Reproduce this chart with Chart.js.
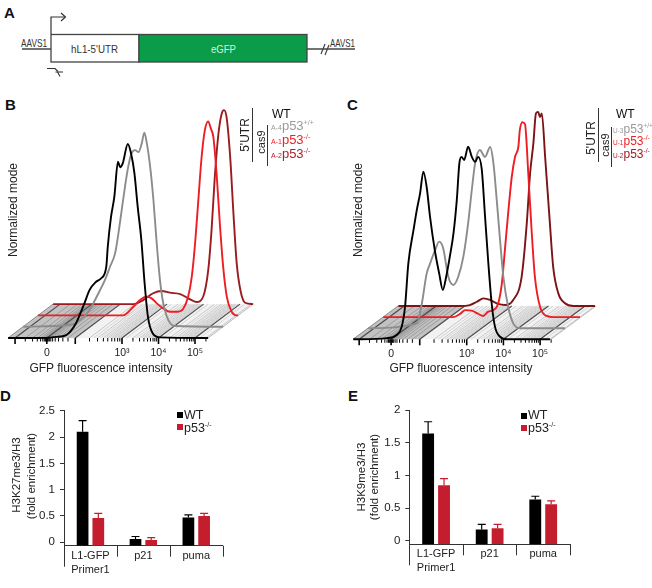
<!DOCTYPE html>
<html><head><meta charset="utf-8">
<script src="https://cdn.jsdelivr.net/npm/chart.js@4.4.1/dist/chart.umd.min.js"></script>
<style>
body{margin:0;background:#fff;}
#page{position:relative;width:652px;height:588px;overflow:hidden;font-family:'Liberation Sans',Arial,sans-serif;color:#222;background:#fff;}
canvas{position:absolute;}
.let{position:absolute;font-weight:bold;font-size:15px;line-height:15px;color:#111;}
.rot{position:absolute;transform:translate(-50%,-50%) rotate(-90deg);white-space:nowrap;line-height:1;}
.txt{position:absolute;white-space:nowrap;line-height:1;}
.vl{position:absolute;width:1px;background:#333;}
.sq{position:absolute;width:6px;height:6px;}
.sb{font-size:7px;}
.sp{font-size:7px;vertical-align:5px;}
.sbc{font-size:6.5px;}
.spc{font-size:6.5px;vertical-align:5px;}
</style></head>
<body><div id="page">

<!-- Panel A schematic -->
<svg style="position:absolute;left:0;top:0" width="370" height="88" font-family="Liberation Sans, Arial, sans-serif">
  <text x="4" y="18" font-size="15" font-weight="bold" fill="#111">A</text>
  <line x1="22" y1="49" x2="51" y2="49" stroke="#444" stroke-width="1.5"/>
  <line x1="307" y1="49" x2="355" y2="49" stroke="#444" stroke-width="1.5"/>
  <rect x="51" y="34.5" width="88" height="27.5" fill="#fff" stroke="#444" stroke-width="1.3"/>
  <rect x="139" y="34.5" width="168" height="27.5" fill="#0a9c48" stroke="#444" stroke-width="1.3"/>
  <text x="21" y="46.5" font-size="11.5" fill="#333" textLength="26" lengthAdjust="spacingAndGlyphs">AAVS1</text>
  <text x="330" y="46.5" font-size="11.5" fill="#333" textLength="25" lengthAdjust="spacingAndGlyphs">AAVS1</text>
  <text x="71" y="52.5" font-size="11.5" fill="#333" textLength="47" lengthAdjust="spacingAndGlyphs">hL1-5'UTR</text>
  <text x="211" y="52.5" font-size="11.5" fill="#d8f2de" textLength="25" lengthAdjust="spacingAndGlyphs">eGFP</text>
  <path d="M51 34 V17 H65" fill="none" stroke="#333" stroke-width="1.2"/>
  <path d="M61 13 L65.5 17 L61 21" fill="none" stroke="#333" stroke-width="1.2"/>
  <path d="M321 54 L325 44 M325 55 L329 45" stroke="#444" stroke-width="1.2"/>
  <path d="M47 68.5 H55 L58 71.5" fill="none" stroke="#333" stroke-width="1.1"/>
  <path d="M55.5 72 H63 M57.5 72 L60 76.5" fill="none" stroke="#333" stroke-width="1.1"/>
</svg>

<div class="let" style="left:5px;top:97px">B</div>
<div class="let" style="left:347px;top:97px">C</div>
<div class="let" style="left:0px;top:388px">D</div>
<div class="let" style="left:348px;top:388px">E</div>

<canvas id="cB" width="330" height="290" style="left:0;top:95px"></canvas>
<canvas id="cC" width="322" height="290" style="left:330px;top:95px"></canvas>
<canvas id="cD" width="330" height="196" style="left:0;top:392px"></canvas>
<canvas id="cE" width="322" height="196" style="left:330px;top:392px"></canvas>

<!-- axis titles B / C -->
<div class="rot" style="left:13px;top:210px;font-size:12px">Normalized mode</div>
<div class="rot" style="left:358px;top:210px;font-size:12px">Normalized mode</div>
<div class="txt" style="left:101px;top:368px;font-size:12px;transform:translate(-50%,-50%)">GFP fluorescence intensity</div>
<div class="txt" style="left:461px;top:368px;font-size:12px;transform:translate(-50%,-50%)">GFP fluorescence intensity</div>

<!-- legend B -->
<div class="rot" style="left:245px;top:135px;font-size:12px">5'UTR</div>
<div class="vl" style="left:252px;top:108px;height:54px"></div>
<div class="rot" style="left:260.5px;top:142px;font-size:11px">cas9</div>
<div class="vl" style="left:267px;top:125px;height:41px"></div>
<div class="txt" style="left:272px;top:108px;font-size:12px;color:#111">WT</div>
<div class="txt" style="left:271px;top:117px;color:#9a9a9a"><span class="sb">A-4</span><span style="font-size:13px">p53</span><span class="sp">+/+</span></div>
<div class="txt" style="left:271px;top:131px;color:#ee2226"><span class="sb">A-1</span><span style="font-size:13px">p53</span><span class="sp">-/-</span></div>
<div class="txt" style="left:271px;top:144.5px;color:#b3202a"><span class="sb">A-2</span><span style="font-size:13px">p53</span><span class="sp">-/-</span></div>

<!-- legend C -->
<div class="rot" style="left:591px;top:138px;font-size:12px">5'UTR</div>
<div class="vl" style="left:598px;top:108px;height:54px"></div>
<div class="rot" style="left:605px;top:145px;font-size:11px">cas9</div>
<div class="vl" style="left:611px;top:127px;height:40px"></div>
<div class="txt" style="left:616px;top:108px;font-size:12px;color:#111">WT</div>
<div class="txt" style="left:613px;top:120px;color:#9a9a9a"><span class="sbc">U-3</span><span style="font-size:12px">p53</span><span class="spc">+/+</span></div>
<div class="txt" style="left:613px;top:132px;color:#ee2226"><span class="sbc">U-1</span><span style="font-size:12px">p53</span><span class="spc">-/-</span></div>
<div class="txt" style="left:613px;top:144.5px;color:#a01c22"><span class="sbc">U-2</span><span style="font-size:12px">p53</span><span class="spc">-/-</span></div>

<!-- D / E titles and legends -->
<div class="rot" style="left:16.5px;top:475px;font-size:11.5px">H3K27me3/H3</div>
<div class="rot" style="left:31.5px;top:476px;font-size:11.5px">(fold enrichment)</div>
<div class="rot" style="left:361.5px;top:477px;font-size:11.5px">H3K9me3/H3</div>
<div class="rot" style="left:375px;top:477px;font-size:11.5px">(fold enrichment)</div>

<div class="sq" style="left:177px;top:412px;background:#000"></div>
<div class="txt" style="left:184px;top:408.5px;font-size:12.5px">WT</div>
<div class="sq" style="left:177px;top:424px;background:#c41e2e"></div>
<div class="txt" style="left:184px;top:420.5px;font-size:12.5px">p53<span class="sp">-/-</span></div>

<div class="sq" style="left:521px;top:412.5px;background:#000"></div>
<div class="txt" style="left:528px;top:409px;font-size:12.5px">WT</div>
<div class="sq" style="left:521px;top:424.5px;background:#c41e2e"></div>
<div class="txt" style="left:528px;top:421px;font-size:12.5px">p53<span class="sp">-/-</span></div>

</div>
<script>
// ---------------- DATA ----------------
// Flow histograms: x in decade units of the biexponential axis (10^3 = 3), y = % of mode
const axisLabelPos = [0.94, 3, 4, 5];
const axisLabels = ['0', '10\u00B3', '10\u2074', '10\u2075'];
const majorTicks = [0.07, 0.94, 1.72, 3, 4, 5];
const minorTicks = [0.35, 0.55, 0.68, 0.77, 0.83, 0.87, 0.9, 0.92, 0.96, 0.98, 1.01, 1.05, 1.1, 1.17, 1.26, 1.38, 1.52,
  2.11, 2.33, 2.49, 2.61, 2.72, 2.8, 2.88, 2.94, 3.3, 3.48, 3.6, 3.7, 3.78, 3.85, 3.9, 3.95,
  4.3, 4.48, 4.6, 4.7, 4.78, 4.85, 4.9, 4.95, 5.3];

// Panel B
const bBlackX = [-0.12, 0.74, 1.2, 1.47, 1.74, 1.97, 2.11, 2.29, 2.43, 2.57, 2.61, 2.70, 2.79, 2.89, 2.95, 3.02, 3.16, 3.25, 3.34, 3.43, 3.53, 3.62, 3.71, 3.84, 4.03, 5.36];
const bBlackY = [0, 0, 0.6, 1.5, 7.6, 17.9, 24.7, 29, 30.8, 36.8, 47, 62.5, 72.8, 90.9, 88, 90, 100, 95, 85, 67.7, 50.5, 28.2, 11, 2.4, 0.3, 0];
const bGrayX = [-0.12, 1.2, 1.44, 1.67, 1.80, 1.99, 2.12, 2.26, 2.40, 2.49, 2.58, 2.67, 2.76, 2.85, 2.95, 3.04, 3.13, 3.20, 3.27, 3.36, 3.45, 3.54, 3.63, 3.72, 3.86, 4.04, 5.36];
const bGrayY = [0, 1, 3.4, 7.7, 12, 18.9, 24, 30.9, 37.8, 48, 60, 72, 82.5, 89.4, 91, 90, 94.5, 100, 94.5, 82.5, 65.3, 43, 24, 12, 3.4, 0.4, 0];
const bRedX = [-0.12, 2.21, 2.49, 2.67, 2.85, 2.99, 3.13, 3.31, 3.49, 3.68, 3.86, 3.99, 4.09, 4.18, 4.27, 4.36, 4.45, 4.54, 4.61, 4.68, 4.77, 4.86, 4.95, 5.05, 5.18, 5.32, 5.36];
const bRedY = [0, 0, 4.5, 7.9, 9.6, 8.8, 6.2, 3.6, 1.9, 1.9, 3.6, 9.6, 20, 37, 59.5, 81.8, 95.6, 100, 96.4, 92, 73, 47, 25, 9.6, 2, 0, 0];
const bDarkX = [-0.12, 2.08, 2.35, 2.62, 2.85, 3.08, 3.36, 3.58, 3.81, 3.99, 4.13, 4.22, 4.31, 4.41, 4.50, 4.56, 4.63, 4.73, 4.82, 4.91, 5.01, 5.14, 5.36];
const bDarkY = [0, 0, 2.1, 5.6, 6.8, 5.9, 5.2, 3, 1.1, 3.8, 17.6, 38, 65.7, 88, 98.3, 100, 96.6, 76, 46.8, 21, 7.3, 0.7, 0];

// Panel C
const cBlackX = [-0.09, 0.82, 1.09, 1.23, 1.32, 1.41, 1.55, 1.64, 1.73, 1.82, 1.91, 2.00, 2.13, 2.25, 2.35, 2.44, 2.54, 2.64, 2.73, 2.80, 2.86, 2.93, 3.04, 3.14, 3.23, 3.31, 3.41, 3.50, 3.59, 3.68, 3.77, 3.91, 4.10, 5.27];
const cBlackY = [0, 0.6, 2.2, 6.5, 16.7, 39, 56, 66.3, 74.9, 86, 78, 63, 45.8, 33.8, 25.3, 32, 42.4, 54.4, 71.4, 90.3, 93.6, 92, 98.8, 93.6, 91, 93.6, 87.3, 63, 39, 18.5, 6.5, 1.3, 0, 0];
const cGrayX = [-0.09, 1.23, 1.37, 1.50, 1.59, 1.73, 1.84, 1.95, 2.09, 2.23, 2.36, 2.50, 2.63, 2.73, 2.82, 2.95, 3.09, 3.23, 3.32, 3.41, 3.50, 3.59, 3.72, 3.86, 4.04, 5.27];
const cGrayY = [0, 2.5, 12.8, 28, 33, 40, 44.4, 41, 26.4, 22.2, 26.4, 36.7, 53.8, 70.9, 84.6, 91.4, 87.9, 93, 84.6, 65.7, 45.2, 26.4, 11, 2.5, 0, 0];
const cRedX = [-0.09, 1.82, 2.00, 2.14, 2.32, 2.50, 2.63, 2.77, 2.91, 3.04, 3.14, 3.23, 3.32, 3.41, 3.50, 3.59, 3.63, 3.70, 3.77, 3.86, 3.95, 4.04, 4.18, 4.36, 4.54, 5.27];
const cRedY = [0, 0, 1.6, 3.6, 3.3, 1.6, 0.6, 2.8, 3.6, 7, 17.3, 36, 55, 72, 82.3, 87.4, 96, 100, 99, 73.7, 44.7, 20.7, 5.3, 0.6, 0, 0];
const cDarkX = [-0.09, 1.59, 1.86, 2.05, 2.23, 2.41, 2.59, 2.82, 3.04, 3.27, 3.41, 3.50, 3.59, 3.66, 3.72, 3.77, 3.82, 3.91, 4.04, 4.13, 4.27, 4.45, 4.68, 5.27];
const cDarkY = [0, 0, 0.5, 2.2, 3.9, 3.1, 1.4, 0.5, 3.1, 15, 42.4, 68, 83.4, 98.8, 99.6, 97, 98.8, 76.6, 42.4, 20, 6.5, 1.4, 0, 0];

// ChIP-qPCR bars
const categories = [['L1-GFP', 'Primer1'], 'p21', 'puma'];
const dTicks = [0, 0.5, 1, 1.5, 2, 2.5];
const dWT = [2.10, 0.06, 0.47];
const dWTErr = [0.21, 0.05, 0.05];
const dP53 = [0.46, 0.045, 0.50];
const dP53Err = [0.09, 0.045, 0.05];
const eTicks = [0, 0.5, 1, 1.5, 2];
const eWT = [1.64, 0.17, 0.63];
const eWTErr = [0.18, 0.08, 0.05];
const eP53 = [0.85, 0.19, 0.556];
const eP53Err = [0.10, 0.06, 0.054];

// ---------------- RENDERING ----------------
const FONT = "'Liberation Sans', Arial, sans-serif";
const TXT = '#222';
const COL = {black: '#000', gray: '#8c8c8c', red: '#ee1d24', darkB: '#9a1c20', darkC: '#7c1315', bar: '#c41e2e'};

const floorPlugin = {
  id: 'floor',
  beforeDatasetsDraw(chart, args, o) {
    const {ctx, scales: {x, y}} = chart;
    const X = u => x.getPixelForValue(u), Y = h => y.getPixelForValue(h);
    const n = o.n, bx = n * o.dx, by = n * o.dy;
    const quad = (u1, u2, fill) => {
      ctx.beginPath();
      ctx.moveTo(X(u1), Y(0)); ctx.lineTo(X(u2), Y(0));
      ctx.lineTo(X(u2 + bx), Y(by)); ctx.lineTo(X(u1 + bx), Y(by)); ctx.closePath();
      ctx.fillStyle = fill; ctx.fill();
    };
    ctx.save();
    quad(o.uMin, o.uFront, '#f2f2f2');
    quad(o.uMin, o.grayEnd, '#c2c2c2');
    const diag = (u, c, w) => {
      ctx.beginPath(); ctx.moveTo(X(u), Y(0)); ctx.lineTo(X(u + bx), Y(by));
      ctx.strokeStyle = c; ctx.lineWidth = w; ctx.stroke();
    };
    o.minor.forEach(u => diag(u, u < o.grayEnd ? '#9c9c9c' : '#c9c9c9', 1));
    for (let k = 0; k < o.minor.length - 1; k++) {
      const a = o.minor[k], b = o.minor[k + 1];
      if (a > o.grayEnd && b - a > 0.05) diag((a + b) / 2, '#d6d6d6', 1);
    }
    o.major.forEach(u => diag(u, '#4a4a4a', 1.2));
    diag(o.uMin, '#888', 1); diag(o.uFront, '#bbb', 1);
    ctx.restore();
  },
  afterDatasetsDraw(chart, args, o) {
    const {ctx, scales: {x, y}} = chart;
    const y0 = y.getPixelForValue(0);
    ctx.save(); ctx.strokeStyle = '#000';
    o.minor.forEach(u => { const px = x.getPixelForValue(u); ctx.lineWidth = 1; ctx.beginPath(); ctx.moveTo(px, y0); ctx.lineTo(px, y0 + 3.5); ctx.stroke(); });
    o.major.forEach(u => { const px = x.getPixelForValue(u); ctx.lineWidth = 1.6; ctx.beginPath(); ctx.moveTo(px, y0); ctx.lineTo(px, y0 + 6); ctx.stroke(); });
    ctx.restore();
  }
};

function series(xs, ys, k, dx, dy, color) {
  return {data: xs.map((u, i) => ({x: u + k * dx, y: ys[i] + k * dy})), borderColor: color, borderWidth: 1.9,
    pointRadius: 0, cubicInterpolationMode: 'monotone', fill: false, clip: false};
}

function flowChart(id, p, sets) {
  return new Chart(document.getElementById(id), {
    type: 'line',
    data: {datasets: sets.map(s => series(s[0], s[1], s[2], p.dx, p.dy, s[3]))},
    options: {
      animation: false, responsive: false, events: [],
      layout: {padding: {left: p.padL, right: p.padR, top: p.padT, bottom: 0}},
      plugins: {legend: {display: false}, tooltip: {enabled: false},
        floor: {n: 3, dx: p.dx, dy: p.dy, uMin: p.uMin, uFront: p.uFront, grayEnd: 1.72, major: majorTicks, minor: minorTicks}},
      scales: {
        x: {type: 'linear', min: p.uMin, max: p.uMax,
          grid: {display: false, drawTicks: false}, border: {display: false},
          afterBuildTicks: s => { s.ticks = axisLabelPos.map(v => ({value: v})); },
          ticks: {callback: (v, i) => axisLabels[i], font: {family: FONT, size: 10.5}, color: TXT, padding: 9, maxRotation: 0, autoSkip: false},
          afterFit: s => { s.height = p.axisH; }},
        y: {type: 'linear', min: 0, max: p.yMax, display: false}
      }
    },
    plugins: [floorPlugin]
  });
}

flowChart('cB', {dx: 0.411, dy: 5.82, uMin: -0.123, uMax: 6.589, uFront: 5.36, yMax: 120.1, padL: 8, padR: 77, padT: 10, axisH: 47}, [
  [bBlackX, bBlackY, 0, COL.black], [bGrayX, bGrayY, 1, COL.gray], [bRedX, bRedY, 2, COL.red], [bDarkX, bDarkY, 3, COL.darkB]]);
flowChart('cC', {dx: 0.409, dy: 5.69, uMin: -0.098, uMax: 6.586, uFront: 5.27, yMax: 120.2, padL: 23, padR: 53.7, padT: 10, axisH: 45.7}, [
  [cBlackX, cBlackY, 0, COL.black], [cGrayX, cGrayY, 1, COL.gray], [cRedX, cRedY, 2, COL.red], [cDarkX, cDarkY, 3, COL.darkC]]);

const barPlugin = {
  id: 'barExtras',
  afterDatasetsDraw(chart, args, o) {
    const {ctx, scales: {x, y}, chartArea} = chart;
    ctx.save();
    chart.data.datasets.forEach((ds, di) => {
      const meta = chart.getDatasetMeta(di);
      meta.data.forEach((bar, i) => {
        const top = y.getPixelForValue(ds.data[i] + o.errs[di][i]);
        ctx.strokeStyle = ds.backgroundColor; ctx.lineWidth = 1.2;
        ctx.beginPath(); ctx.moveTo(bar.x, bar.y); ctx.lineTo(bar.x, top);
        ctx.moveTo(bar.x - 4, top); ctx.lineTo(bar.x + 4, top); ctx.stroke();
      });
    });
    ctx.strokeStyle = '#333'; ctx.lineWidth = 1;
    for (let i = 0; i <= categories.length; i++) {
      const px = Math.round(x.getPixelForValue(i - 0.5)) + 0.5;
      ctx.beginPath(); ctx.moveTo(px, chartArea.bottom); ctx.lineTo(px, chartArea.bottom + (i === 0 ? 21 : 11)); ctx.stroke();
    }
    ctx.restore();
  }
};

function barChart(id, p) {
  return new Chart(document.getElementById(id), {
    type: 'bar',
    data: {labels: categories, datasets: [
      {label: 'WT', data: p.wt, backgroundColor: COL.black, base: p.min},
      {label: 'p53-/-', data: p.p53, backgroundColor: COL.bar, base: p.min}]},
    options: {
      animation: false, responsive: false, events: [],
      layout: {padding: {left: 0, right: p.padR, top: p.padT, bottom: 0}},
      datasets: {bar: {categoryPercentage: 0.594, barPercentage: 0.745}},
      plugins: {legend: {display: false}, tooltip: {enabled: false}, barExtras: {errs: [p.wtErr, p.p53Err]}},
      scales: {
        x: {grid: {display: false, drawTicks: false}, border: {display: true, color: '#333', width: 1},
          ticks: {font: {family: FONT, size: 11, lineHeight: 1.27}, color: TXT, padding: 3, maxRotation: 0, autoSkip: false},
          afterFit: s => { s.height = p.axisH; }},
        y: {min: p.min, max: p.max,
          afterBuildTicks: s => { s.ticks = p.ticks.map(v => ({value: v})); },
          grid: {drawOnChartArea: false, drawTicks: true, tickLength: 4, color: '#333'},
          border: {display: true, color: '#333', width: 1},
          ticks: {callback: v => String(v), font: {family: FONT, size: 11.5}, color: TXT, padding: 5},
          afterFit: s => { s.width = p.yW; }}
      }
    },
    plugins: [barPlugin]
  });
}

barChart('cD', {wt: dWT, wtErr: dWTErr, p53: dP53, p53Err: dP53Err, ticks: dTicks, min: -0.065, max: 2.5, padR: 107.3, padT: 18.7, axisH: 42.3, yW: 64});
barChart('cE', {wt: eWT, wtErr: eWTErr, p53: eP53, p53Err: eP53Err, ticks: eTicks, min: -0.055, max: 2, padR: 82, padT: 18, axisH: 43.7, yW: 79.3});
</script>
</body></html>
